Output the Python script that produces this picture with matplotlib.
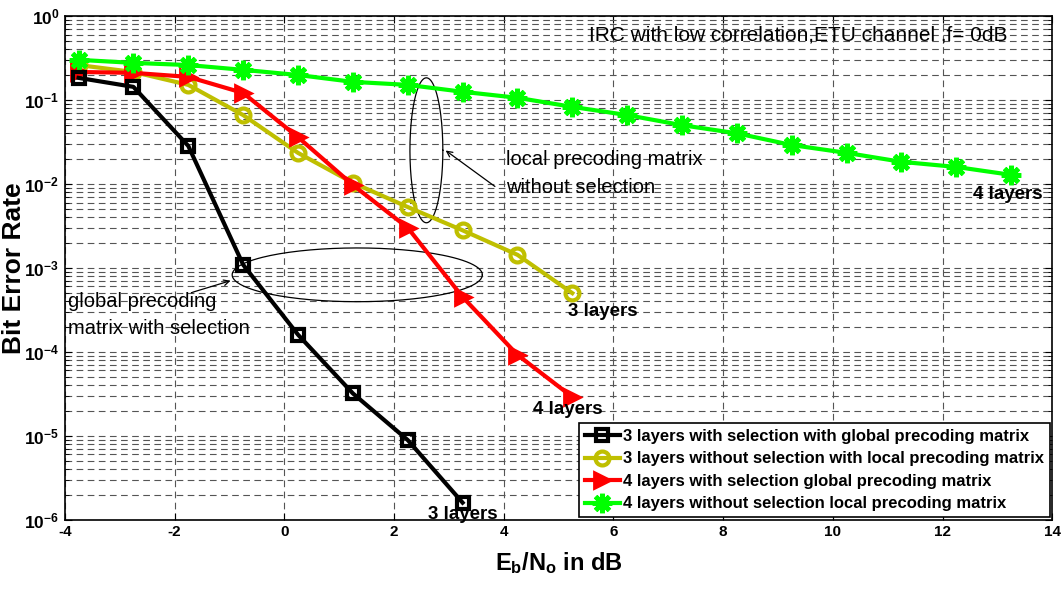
import numpy as np
import matplotlib
matplotlib.use("Agg")
import matplotlib.pyplot as plt

plt.rcParams['font.family'] = ['Liberation Sans', 'DejaVu Sans']
plt.rcParams['mathtext.fontset'] = 'custom'
plt.rcParams['mathtext.rm'] = 'Liberation Sans'
plt.rcParams['mathtext.bf'] = 'Liberation Sans:bold'

# Eb/No points (dB)
snr = np.array([-3.75, -2.75, -1.75, -0.75, 0.25, 1.25, 2.25, 3.25, 4.25,
                5.25, 6.25, 7.25, 8.25, 9.25, 10.25, 11.25, 12.25, 13.25])

ber_3_global = [0.183, 0.143, 0.0283, 1.09e-3, 1.6e-4, 3.2e-5, 8.9e-6, 1.6e-6]
ber_3_local = [0.26, 0.215, 0.151, 0.066, 0.0234, 0.0103, 5.3e-3, 2.8e-3,
               1.43e-3, 5.0e-4]
ber_4_global = [0.215, 0.21, 0.188, 0.121, 0.036, 0.0097, 3.0e-3, 4.5e-4,
                9.2e-5, 2.9e-5]
ber_4_local = [0.30, 0.276, 0.26, 0.228, 0.198, 0.164, 0.151, 0.125, 0.106,
               0.0826, 0.066, 0.050, 0.040, 0.029, 0.0234, 0.0183, 0.0159,
               0.0128]

labels = ['3 layers with selection with global precoding matrix',
          '3 layers without selection with local precoding matrix',
          '4 layers with selection global precoding matrix',
          '4 layers without selection local precoding matrix']

fig = plt.figure(figsize=(10.63, 5.90), dpi=100)
ax = fig.add_axes([0.061, 0.119, 0.929, 0.854])

ax.semilogy(snr[:len(ber_3_global)], ber_3_global, color='k', lw=3,
            marker='s', ms=9, mfc='none', mew=3, label=labels[0], zorder=4)
ax.semilogy(snr[:len(ber_3_local)], ber_3_local, color='#BFBF00', lw=3,
            marker='o', ms=10, mfc='none', mew=3, label=labels[1], zorder=3)
ax.semilogy(snr[:len(ber_4_global)], ber_4_global, color='#FF0000', lw=3,
            marker='>', ms=11, mfc='#FF0000', mew=2, label=labels[2], zorder=3)
ax.semilogy(snr[:len(ber_4_local)], ber_4_local, color='#00FF00', lw=3,
            marker=(8, 2, 0), ms=14, mew=3.5, label=labels[3], zorder=3)

ax.set_xlim(-4, 14)
ax.set_ylim(1e-6, 1)
ax.set_xticks(np.arange(-4, 15, 2))
ax.set_xticklabels([str(v) for v in range(-4, 15, 2)], fontweight='bold', fontsize=11)
yt = [10.0 ** e for e in range(-6, 1)]
ax.set_yticks(yt)
ax.set_yticklabels([r'$\mathbf{10^{%d}}$' % e for e in range(-6, 1)], fontsize=12.5)
ax.tick_params(which='both', direction='in', top=True, right=True)
ax.tick_params(which='major', length=5, pad=4)
ax.tick_params(which='minor', length=3)
ax.grid(True, which='major', ls=(0, (6, 4)), color='#555555', lw=0.8)
ax.grid(True, which='minor', axis='y', ls=(0, (6, 4)), color='#555555', lw=0.8)
for s in ax.spines.values():
    s.set_color('k')
    s.set_linewidth(1.2)

ax.set_xlabel(r'$\mathbf{E_b/N_o}$ in dB', fontsize=17, fontweight='bold', labelpad=8)
ax.set_ylabel('Bit Error Rate', fontsize=19, fontweight='bold')
ax.yaxis.set_label_coords(-0.039, 0.5)

# annotations
ax.text(5.55, 10 ** -0.226, 'IRC with low correlation,ETU channel ,f= 0dB',
        fontsize=15, va='center', ha='left')
ax.text(4.05, 10 ** -1.714, 'local precoding matrix', fontsize=14.5, va='center')
ax.text(4.05, 10 ** -2.04, 'without selection', fontsize=14.5, va='center')
ax.text(-3.95, 10 ** -3.40, 'global precoding', fontsize=14.5, va='center')
ax.text(-3.95, 10 ** -3.72, 'matrix with selection', fontsize=14.5, va='center')

ax.text(5.18, 10 ** -3.52, '3 layers', fontsize=13.5, fontweight='bold', va='center')
ax.text(4.54, 10 ** -4.69, '4 layers', fontsize=13.5, fontweight='bold', va='center')
ax.text(2.62, 10 ** -5.94, '3 layers', fontsize=13.5, fontweight='bold', va='center')
ax.text(12.55, 10 ** -2.13, '4 layers', fontsize=13.5, fontweight='bold', va='center')

t = np.linspace(0, 2 * np.pi, 200)
# vertical ellipse (local precoding)
ax.plot(2.59 + 0.30 * np.cos(t), 10 ** (-1.60 + 0.863 * np.sin(t)), color='k', lw=0.9)
# horizontal ellipse (global precoding)
ax.plot(1.33 + 2.28 * np.cos(t), 10 ** (-3.083 + 0.32 * np.sin(t)), color='k', lw=0.9)

ax.annotate('', xy=(2.9, 10 ** -1.583), xytext=(3.88, 10 ** -2.05),
            arrowprops=dict(arrowstyle='->', color='k', lw=0.9))
ax.annotate('', xy=(-0.93, 10 ** -3.143), xytext=(-1.72, 10 ** -3.30),
            arrowprops=dict(arrowstyle='->', color='k', lw=0.9))

leg = ax.legend(loc='lower right', prop={'weight': 'bold', 'size': 12},
                fancybox=False, framealpha=1, edgecolor='k', handlelength=2.1,
                borderaxespad=0.15, labelspacing=0.45, handletextpad=0.2,
                borderpad=0.35)
leg.get_frame().set_linewidth(1.2)

fig.savefig('out.png', dpi=100)
